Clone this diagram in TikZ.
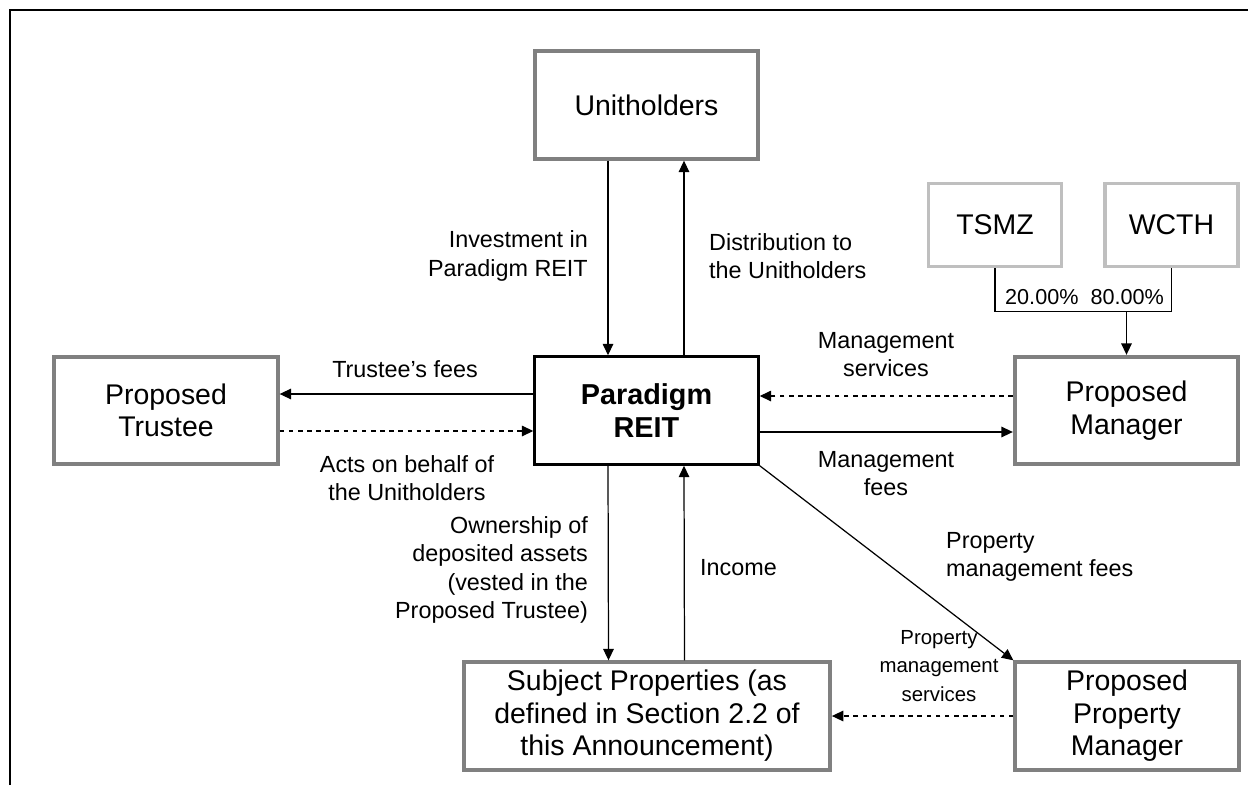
\documentclass[tikz,border=0pt]{standalone}
\usepackage{fontspec}
\setmainfont{Liberation Sans}
\usepackage{tikz}
\usetikzlibrary{arrows.meta}
\definecolor{boxgray}{HTML}{808080}
\definecolor{ownergray}{HTML}{BFBFBF}
\tikzstyle{party} = [rectangle, text centered, align=center, draw=boxgray, line width=2.2pt, minimum width=4.47cm, minimum height=2.15cm, font=\fontsize{16.2}{18.5}\selectfont]
\tikzstyle{reit} = [party, draw=black, line width=1.7pt, font=\fontsize{16.4}{19}\selectfont\bfseries]
\tikzstyle{owner} = [party, draw=ownergray, line width=1.8pt, minimum width=2.66cm, minimum height=1.66cm]
\tikzstyle{flow} = [align=center, font=\fontsize{13.3}{16}\selectfont]
\tikzstyle{share} = [font=\fontsize{12.3}{14}\selectfont]
\tikzstyle{arrow} = [line width=0.7pt, -{Triangle[length=6.5pt,width=6pt]}]
\tikzstyle{service} = [arrow, dash pattern=on 2.6pt off 2.6pt]

\begin{document}
\begin{tikzpicture}[x=0.02cm,y=-0.02cm]
\useasboundingbox (0,0) rectangle (1248,785);
\draw [line width=1.2pt] (10,785) -- (10,10) -- (1248,10);

\node (unit) [party] at (646.5,105) {Unitholders};
\node (reit) [reit] at (646.5,410.5) {Paradigm\\REIT};
\node (trustee) [party] at (166,410.5) {Proposed\\Trustee};
\node (mgr) [party] at (1126.5,410.5) {Proposed\\Manager};
\node (tsmz) [owner] at (995,225) {TSMZ};
\node (wcth) [owner] at (1171.5,225) {WCTH};
\node (subj) [party, minimum width=7.32cm] at (647,716) {Subject Properties (as\\defined in Section 2.2 of\\this Announcement)};
\node (ppm) [party] at (1127,716) {Proposed\\Property\\Manager};

\coordinate (split) at ([yshift=0.86cm]mgr.north);
\draw [line width=0.7pt] (tsmz.south) |- (split) -| (wcth.south);
\draw [arrow] (split) -- (mgr.north);
\node [share, anchor=west] at (999,297) {20.00\%};
\node [share, anchor=east] at (1170,297) {80.00\%};

\draw [arrow] ([xshift=-0.77cm]unit.south) -- ([xshift=-0.77cm]reit.north);
\draw [arrow] ([xshift=0.75cm]reit.north) -- ([xshift=0.75cm]unit.south);
\draw [arrow] ([yshift=0.33cm]reit.west) -- ([yshift=0.33cm]trustee.east);
\draw [service] ([yshift=-0.41cm]trustee.east) -- ([yshift=-0.41cm]reit.west);
\draw [service] ([yshift=0.29cm]mgr.west) -- ([yshift=0.29cm]reit.east);
\draw [arrow] ([yshift=-0.43cm]reit.east) -- ([yshift=-0.43cm]mgr.west);
\draw [arrow] ([xshift=-0.77cm]reit.south) -- ([xshift=-0.77cm]subj.north);
\draw [arrow] ([xshift=0.75cm]subj.north) -- ([xshift=0.75cm]reit.south);
\draw [arrow] (reit.south east) -- (ppm.north west);
\draw [service] (ppm.west) -- (subj.east);

\node [flow, anchor=east, align=right] at (594,256) {Investment in\\Paradigm REIT};
\node [flow, anchor=west, align=left] at (703,256) {Distribution to\\the Unitholders};
\node [flow] at (405,369) {Trustee's fees};
\node [flow] at (407,478) {Acts on behalf of\\the Unitholders};
\node [flow] at (886,355) {Management\\services};
\node [flow] at (886,474) {Management\\fees};
\node [flow, anchor=east, align=right] at (594,570) {Ownership of\\deposited assets\\(vested in the\\Proposed Trustee)};
\node [flow, anchor=west] at (694,568) {Income};
\node [flow, anchor=west, align=left] at (940,557) {Property\\management fees};
\node [flow, font=\fontsize{11.6}{16}\selectfont] at (939,666) {Property\\management\\services};

\end{tikzpicture}
\end{document}
